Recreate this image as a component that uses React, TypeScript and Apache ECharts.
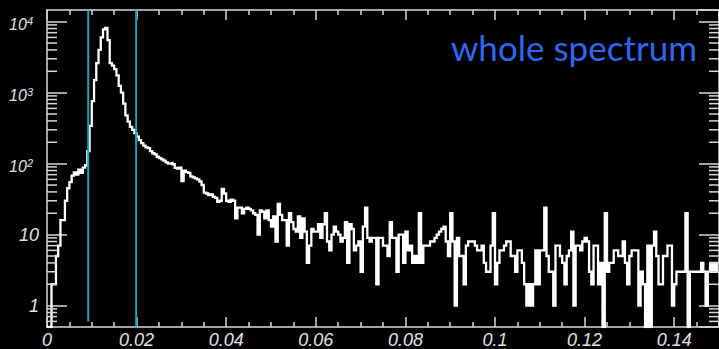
import React, { useEffect, useRef } from 'react';
import * as echarts from 'echarts';

// ---- axis ranges ----
const X_MIN = 0;
const X_MAX = 0.15;
const X_INTERVAL = 0.02;
const BIN_WIDTH = 0.0005;
const Y_MIN = 0.5;
const Y_MAX = 14600;

// ---- cut lines (x positions, bottom values) ----
const cutPositions = [0.0092, 0.0199];
const cutBottoms = [0.6, 0.5];

// ---- minor tick multipliers for log axis ----
const minorMultipliers = [2, 3, 4, 5, 6, 7, 8, 9];
const minorDecades = [-1, 0, 1, 2, 3];

// ---- histogram counts (300 bins of 0.0005) ----
const countsPeak = [
  0, 0, 2, 2, 5, 7, 16, 16, 30, 45,
  55, 68, 75, 70, 82, 74, 88, 95, 150, 340,
  760, 1500, 2600, 4000, 6000, 7800, 8200, 5500, 2600, 2400,
  2150, 1750, 1250, 1000, 700, 480, 390, 330, 300, 270,
  240, 215, 195, 180, 170, 165, 150, 140, 135, 125,
];
const countsTail1 = [
  120, 115, 110, 104, 100, 102, 98, 87, 85, 88,
  57, 80, 76, 74, 66, 64, 62, 60, 56, 50,
  39, 38, 36, 37, 34, 33, 29, 30, 44, 38,
  30, 29, 31, 30, 17, 24, 24, 20, 23, 24,
  23, 22, 20, 19, 10, 22, 21, 17, 22, 16,
];
const countsTail2 = [
  13, 18, 8, 27, 19, 16, 16, 7, 20, 15,
  12, 11, 18, 9, 17, 11, 4, 7, 12, 11,
  11, 14, 9, 14, 20, 8, 6, 10, 13, 11,
  10, 8, 9, 15, 4, 14, 12, 6, 7, 8,
  3, 13, 24, 9, 8, 9, 9, 2, 9, 9,
];
const countsTail3 = [
  7, 7, 5, 15, 9, 9, 3, 10, 10, 4,
  11, 6, 7, 4, 5, 4, 20, 4, 7, 7,
  7, 8, 8, 9, 10, 11, 12, 13, 8, 5,
  20, 8, 1, 9, 5, 5, 2, 7, 8, 8,
  8, 7, 6, 6, 7, 4, 3, 3, 7, 20,
];
const countsTail4 = [
  2, 4, 6, 6, 7, 8, 8, 5, 5, 3,
  6, 6, 4, 2, 1, 2, 1, 2, 6, 2,
  6, 6, 24, 5, 3, 3, 1, 7, 7, 5,
  4, 2, 5, 6, 11, 1, 7, 7, 6, 8,
  9, 8, 3, 2, 7, 7, 2, 4, 0, 20,
];
const countsTail5 = [
  3, 4, 4, 6, 6, 5, 5, 8, 4, 2,
  5, 6, 6, 6, 1, 3, 2, 0, 7, 0,
  7, 11, 5, 2, 2, 5, 5, 7, 7, 1,
  2, 3, 3, 3, 3, 20, 0, 3, 3, 3,
  3, 3, 4, 3, 1, 3, 4, 3, 4, 3,
];

const TITLE_TEXT = 'whole spectrum';

const AXIS_COLOR = '#d8d8d8';
const LABEL_COLOR = '#e0e0e0';
const CUT_COLOR = '#17a3b8';
const TITLE_COLOR = '#2f66ee';
const LABEL_FONT = '"Liberation Sans", Arial, sans-serif';

export default function App() {
  const ref = useRef<HTMLDivElement>(null);

  useEffect(() => {
    if (!ref.current) return;
    const chart = echarts.init(ref.current, undefined, { renderer: 'svg' });

    const counts = [
      ...countsPeak,
      ...countsTail1,
      ...countsTail2,
      ...countsTail3,
      ...countsTail4,
      ...countsTail5,
    ];
    const shown = (c: number) => (c > 0 ? c : Y_MIN);
    const stepData: number[][] = counts.map((c, i) => [i * BIN_WIDTH, shown(c)]);
    stepData.push([counts.length * BIN_WIDTH, shown(counts[counts.length - 1])]);

    const minorTicks: number[][] = [];
    minorDecades.forEach((d) => {
      minorMultipliers.forEach((m) => {
        const v = m * Math.pow(10, d);
        if (v > Y_MIN && v < Y_MAX) minorTicks.push([X_MIN, v]);
      });
    });

    const tickStyle = { color: AXIS_COLOR, width: 1.5 };

    const xAxisBase = {
      type: 'value' as const,
      min: X_MIN,
      max: X_MAX,
      interval: X_INTERVAL,
      splitLine: { show: false },
      minorSplitLine: { show: false },
      axisLine: { show: true, onZero: false, lineStyle: tickStyle },
      axisTick: { show: true, inside: true, length: 10, lineStyle: tickStyle },
      minorTick: { show: true, splitNumber: 4, length: 5, lineStyle: tickStyle },
    };

    const yAxisBase = {
      type: 'log' as const,
      logBase: 10,
      min: Y_MIN,
      max: Y_MAX,
      splitLine: { show: false },
      axisLine: { show: true, onZero: false, lineStyle: tickStyle },
      axisTick: { show: true, inside: true, length: 20, lineStyle: tickStyle },
    };

    const option: any = {
      backgroundColor: '#000000',
      animation: false,
      grid: { left: 47, right: -4, top: 10, bottom: 22, containLabel: false },
      xAxis: [
        {
          ...xAxisBase,
          position: 'bottom',
          axisLabel: {
            show: true,
            margin: 4,
            color: LABEL_COLOR,
            fontSize: 18,
            fontStyle: 'italic',
            fontFamily: LABEL_FONT,
            showMaxLabel: false,
            formatter: (v: number) => (v === 0 ? '0' : String(parseFloat(v.toFixed(3)))),
          },
        },
        {
          ...xAxisBase,
          position: 'top',
          axisLabel: { show: false },
        },
      ],
      yAxis: [
        {
          ...yAxisBase,
          position: 'left',
          axisLabel: {
            show: true,
            margin: 8,
            showMinLabel: false,
            showMaxLabel: false,
            color: LABEL_COLOR,
            fontStyle: 'italic',
            fontFamily: LABEL_FONT,
            formatter: (v: number) => {
              const k = Math.round(Math.log10(v));
              if (k <= 0) return '{n|1}';
              if (k === 1) return '{n|10}';
              return '{b|10}{s|' + k + '}';
            },
            rich: {
              n: { fontSize: 18, fontStyle: 'italic', fontFamily: LABEL_FONT, color: LABEL_COLOR },
              b: {
                fontSize: 16,
                fontStyle: 'italic',
                fontFamily: LABEL_FONT,
                color: LABEL_COLOR,
                lineHeight: 20,
                padding: [5, 0, 0, 0],
              },
              s: {
                fontSize: 11,
                fontStyle: 'italic',
                fontFamily: LABEL_FONT,
                color: LABEL_COLOR,
                lineHeight: 12,
                verticalAlign: 'top',
                padding: [4, 6, 0, 0],
              },
            },
          },
        },
        {
          ...yAxisBase,
          position: 'right',
          axisLabel: { show: false },
        },
      ],
      series: [
        {
          type: 'line',
          xAxisIndex: 0,
          yAxisIndex: 0,
          step: 'end',
          data: stepData,
          showSymbol: false,
          symbol: 'none',
          clip: true,
          z: 2,
          lineStyle: { color: '#ffffff', width: 2.3, join: 'miter' },
        },
        ...cutPositions.map((x, i) => ({
          type: 'line',
          xAxisIndex: 0,
          yAxisIndex: 0,
          data: [
            [x, cutBottoms[i]],
            [x, Y_MAX],
          ],
          symbol: 'none',
          z: 3,
          lineStyle: { color: CUT_COLOR, width: 2 },
        })),
        {
          type: 'custom',
          xAxisIndex: 0,
          yAxisIndex: 0,
          silent: true,
          clip: false,
          z: 4,
          data: minorTicks,
          renderItem: (params: any, api: any) => {
            const v = api.value(1);
            const l = api.coord([X_MIN, v]);
            const r = api.coord([X_MAX, v]);
            const st = { stroke: AXIS_COLOR, lineWidth: 1.5 };
            return {
              type: 'group',
              children: [
                { type: 'line', shape: { x1: l[0], y1: l[1], x2: l[0] + 10, y2: l[1] }, style: st },
                { type: 'line', shape: { x1: r[0], y1: r[1], x2: r[0] - 10, y2: r[1] }, style: st },
              ],
            };
          },
        },
      ],
      graphic: [
        {
          type: 'text',
          right: 22,
          top: 29,
          style: {
            text: TITLE_TEXT,
            fill: TITLE_COLOR,
            font: '35px Lato, "Open Sans", sans-serif',
          },
        },
      ],
    };

    chart.setOption(option);
    return () => chart.dispose();
  }, []);

  return (
    <div
      ref={ref}
      style={{ position: 'fixed', left: 0, top: 0, width: 719, height: 349 }}
    />
  );
}
